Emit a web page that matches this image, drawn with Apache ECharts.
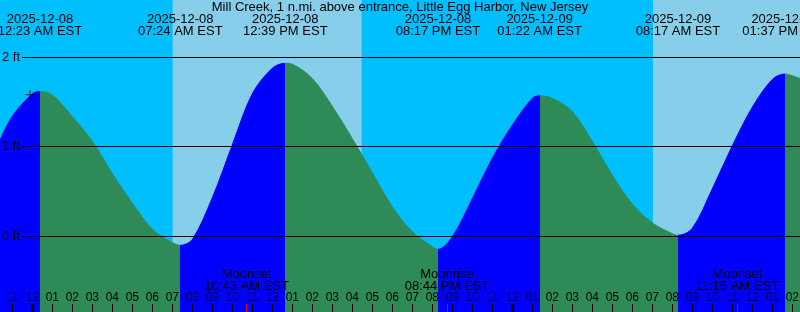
<!DOCTYPE html>
<html><head><meta charset="utf-8">
<script src="https://cdn.jsdelivr.net/npm/echarts@6/dist/echarts.min.js"></script>
<style>html,body{margin:0;padding:0;background:#fff}#c{width:800px;height:312px}</style>
</head><body><div id="c"></div>
<script>
// ---- data (hours since 2025-12-08 00:00 EST, heights in ft) ----
const chartTitle = 'Mill Creek, 1 n.mi. above entrance, Little Egg Harbor, New Jersey';
const sampleHours = [-1.62, -1, 0, 0.383, 1, 2, 3, 4, 5, 6, 7, 7.4, 8, 9, 10, 11, 12, 12.65, 13, 14, 15, 16, 17, 18, 19, 20, 20.283, 21, 22, 23, 24, 25, 25.367, 26, 27, 28, 29, 30, 31, 32, 32.283, 33, 34, 35, 36, 37, 37.617, 38, 38.4];
const sampleHeights = [1.07, 1.34, 1.59, 1.616, 1.575, 1.335, 1.06, 0.70, 0.37, 0.08, -0.07, -0.10, -0.035, 0.43, 1.02, 1.59, 1.875, 1.93, 1.92, 1.76, 1.45, 1.09, 0.71, 0.33, 0.05, -0.115, -0.145, -0.005, 0.42, 0.87, 1.24, 1.54, 1.568, 1.54, 1.39, 1.06, 0.68, 0.36, 0.15, 0.03, 0.012, 0.09, 0.53, 1.01, 1.44, 1.75, 1.81, 1.79, 1.76];
const extremeHours = [0.383, 7.4, 12.65, 20.283, 25.367, 32.283, 37.617];
const extremeKind = ['high', 'low', 'high', 'low', 'high', 'low', 'high'];
const extremeDates = ['2025-12-08', '2025-12-08', '2025-12-08', '2025-12-08', '2025-12-09', '2025-12-09', '2025-12-09'];
const extremeClock = ['12:23 AM EST', '07:24 AM EST', '12:39 PM EST', '08:17 PM EST', '01:22 AM EST', '08:17 AM EST', '01:37 PM EST'];
const hourTicks = [-1, 0, 1, 2, 3, 4, 5, 6, 7, 8, 9, 10, 11, 12, 13, 14, 15, 16, 17, 18, 19, 20, 21, 22, 23, 24, 25, 26, 27, 28, 29, 30, 31, 32, 33, 34, 35, 36, 37, 38];
const hourLabels = ['11', '12', '01', '02', '03', '04', '05', '06', '07', '08', '09', '10', '11', '12', '01', '02', '03', '04', '05', '06', '07', '08', '09', '10', '11', '12', '01', '02', '03', '04', '05', '06', '07', '08', '09', '10', '11', '12', '01', '02'];
const midnightTicks = [0, 24];
const moonHours = [10.717, 20.733, 35.25];
const moonEvents = ['Moonset', 'Moonrise', 'Moonset'];
const moonClock = ['10:43 AM EST', '08:44 PM EST', '11:15 AM EST'];
const dayStart = [7.017, 31.033];
const dayEnd = [16.467, 40.483];
const ftTicks = [0, 1, 2];
const nowMark = [[-0.115, 1.58]];
const xMin = -1.615, xMax = 38.385;
const yMin = -0.844, yMax = 2.636;

// ---- styling ----
const FONT = 'Liberation Sans';
const RISE = '#0000ff', FALL = '#2e8b57';
const NIGHT = '#00bfff', DAY = '#87ceeb';

const pieces = [];
for (let i = 0; i <= extremeHours.length; i++) {
  const p = {};
  if (i > 0) p.gte = extremeHours[i - 1];
  if (i < extremeHours.length) p.lt = extremeHours[i];
  if (i < extremeHours.length) p.color = extremeKind[i] === 'high' ? RISE : FALL;
  else p.color = extremeKind[i - 1] === 'high' ? FALL : RISE;
  pieces.push(p);
}

const full = { left: 0, right: 0, top: 0, bottom: 0, outerBoundsMode: 'none', containLabel: false };
const hiddenY = (gi) => ({ type: 'value', gridIndex: gi, min: yMin, max: yMax, show: false });
const baseX = (gi) => ({ type: 'value', gridIndex: gi, min: xMin, max: xMax, axisLine: { show: false, onZero: false }, splitLine: { show: false }, z: 10 });

const option = {
  animation: false,
  backgroundColor: NIGHT,
  title: {
    text: chartTitle, left: 'center', top: 1, padding: 0,
    textStyle: { fontFamily: FONT, fontSize: 13, fontWeight: 'normal', color: '#000' }
  },
  grid: [
    Object.assign({ show: true, backgroundColor: NIGHT, borderWidth: 0 }, full),
    Object.assign({}, full, { left: 22 }),
    Object.assign({}, full),
    Object.assign({}, full)
  ],
  xAxis: [
    Object.assign(baseX(0), {
      position: 'bottom',
      axisTick: { show: true, inside: true, length: 8, customValues: hourTicks, lineStyle: { color: '#000', width: 1 } },
      axisLabel: { show: true, inside: true, margin: 8, customValues: hourTicks, color: '#000', fontFamily: FONT, fontSize: 12,
        formatter: (v) => hourLabels[hourTicks.indexOf(v)] }
    }),
    { type: 'value', gridIndex: 1, min: 0, max: 1, show: false, axisLine: { onZero: false } },
    Object.assign(baseX(2), {
      position: 'bottom',
      axisTick: { show: true, inside: true, length: 8, customValues: midnightTicks, lineStyle: { color: '#000', width: 3 } },
      axisLabel: { show: false }
    }),
    Object.assign(baseX(3), {
      position: 'bottom',
      axisTick: { show: true, inside: true, length: 8, customValues: moonHours, lineStyle: { color: '#ff0000', width: 1 } },
      axisLabel: { show: true, inside: true, margin: 20, customValues: moonHours, color: '#000', fontFamily: FONT, fontSize: 13, lineHeight: 12,
        formatter: (v) => { const i = moonHours.indexOf(v); return moonEvents[i] + '\n' + moonClock[i]; } }
    }),
    Object.assign(baseX(0), {
      position: 'top',
      axisTick: { show: false },
      axisLabel: { show: true, inside: true, margin: 13, customValues: extremeHours, color: '#000', fontFamily: FONT, fontSize: 13, lineHeight: 12,
        formatter: (v) => { const i = extremeHours.indexOf(v); return extremeDates[i] + '\n' + extremeClock[i]; } }
    })
  ],
  yAxis: [hiddenY(0), hiddenY(1), hiddenY(2), hiddenY(3)],
  visualMap: {
    type: 'piecewise', show: false, dimension: 0, seriesIndex: 1, pieces: pieces, outOfRange: { color: FALL }
  },
  series: [
    {
      name: 'daylight', type: 'line', xAxisIndex: 0, yAxisIndex: 0, data: [], z: 1, silent: true,
      markArea: { silent: true, itemStyle: { color: DAY, opacity: 1 },
        data: dayStart.map((s, i) => [{ xAxis: s }, { xAxis: dayEnd[i] }]) }
    },
    {
      name: 'tide', type: 'line', xAxisIndex: 0, yAxisIndex: 0, z: 2,
      data: sampleHours.map((t, i) => [t, sampleHeights[i]]),
      smooth: 0.33, showSymbol: false, symbol: 'none',
      lineStyle: { width: 1 },
      areaStyle: { opacity: 1, origin: 'start' }
    },
    {
      name: 'now', type: 'scatter', xAxisIndex: 0, yAxisIndex: 0, z: 4, data: nowMark,
      symbol: 'path://M0,4h9v1h-9z M4,0h1v9h-1z', symbolSize: 9, itemStyle: { color: '#000' }
    },
    {
      name: 'levels', type: 'line', xAxisIndex: 1, yAxisIndex: 1, data: [], z: 5,
      markLine: {
        silent: true, symbol: ['none', 'none'],
        lineStyle: { color: '#000', width: 1, type: 'solid' },
        label: { show: true, position: 'start', distance: 2, color: '#000', fontFamily: FONT, fontSize: 13,
          formatter: (p) => p.value + ' ft' },
        data: ftTicks.map((v) => ({ yAxis: v }))
      }
    }
  ]
};

const chart = echarts.init(document.getElementById('c'), null, { renderer: 'canvas' });
chart.setOption(option);
</script>
</body></html>
